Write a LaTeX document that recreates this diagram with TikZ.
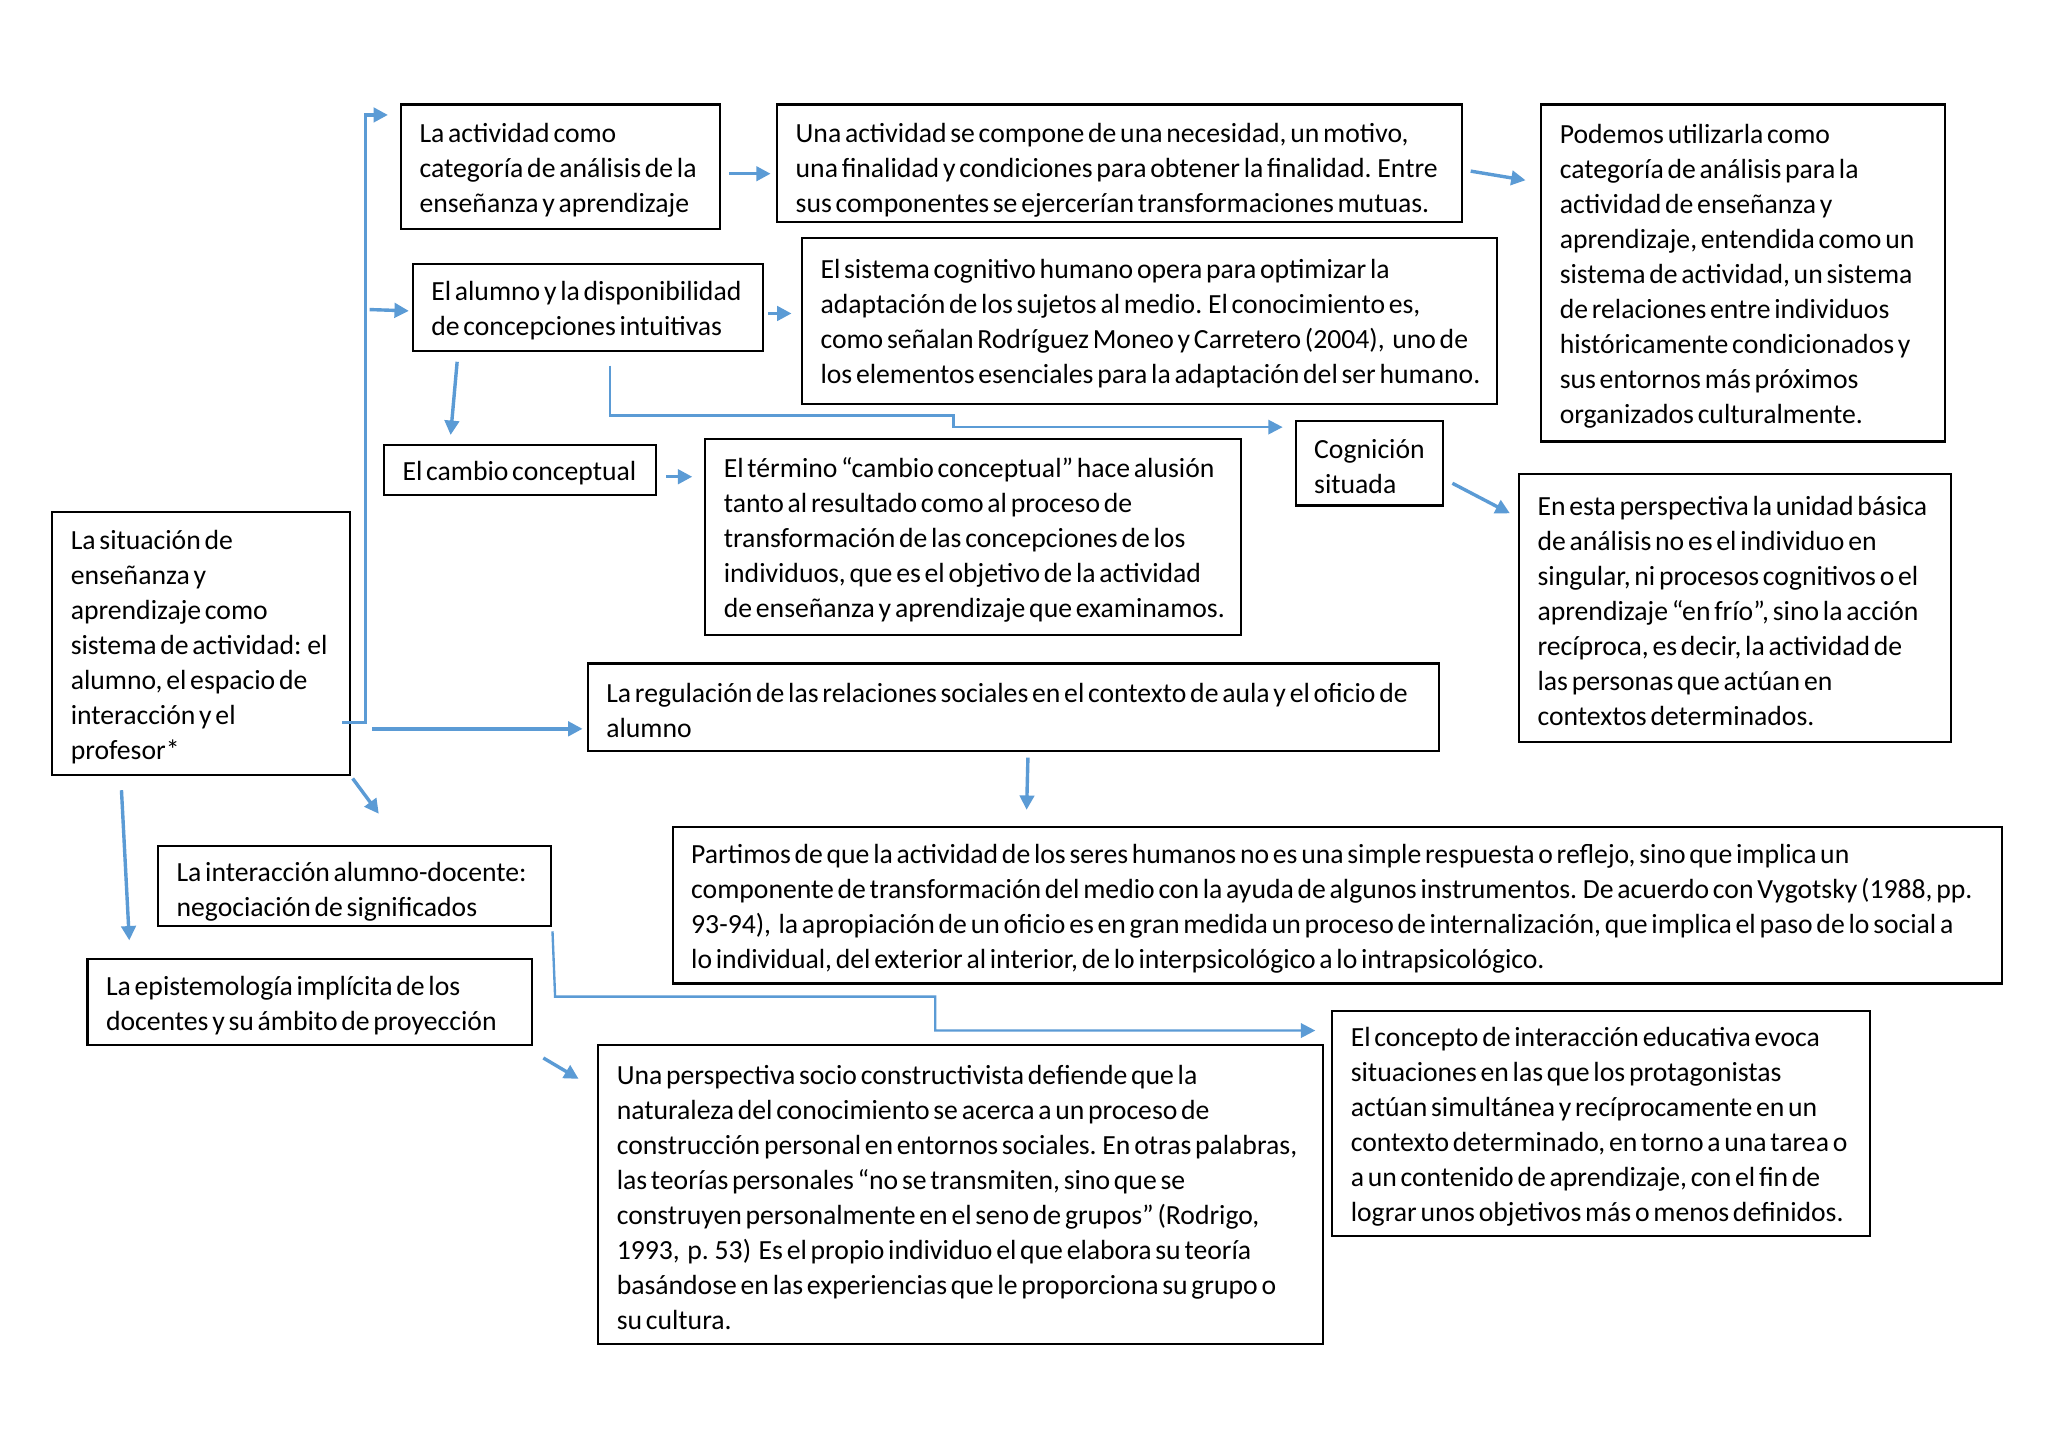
\documentclass[tikz,border=0pt]{standalone}
\usepackage{fontspec}
\setmainfont{Carlito}[WordSpace={0.6,0.3,0.3}]
\usetikzlibrary{arrows.meta,calc}
\definecolor{arr}{HTML}{5B9BD5}
\newcommand\diabox[7][0]{%
  \node[box,minimum width=#5*0.5pt,minimum height=#6*0.5pt] (#2) at (#3,#4) {};
  \node[txt] (#2t) at ([xshift=7.3pt,yshift=-1.3pt-#1*0.5pt]#2.west) {#7};}
\begin{document}
\begin{tikzpicture}[x=0.5pt,y=-0.5pt,
  box/.style={draw=black,line width=0.8pt,inner sep=0pt},
  txt/.style={align=left,inner sep=0pt,anchor=west,font=\fontsize{10.6}{13.4}\selectfont},
  con/.style={draw=arr,line width=1.3pt,-{Triangle[length=5.5pt,width=5.5pt]}},
  thincon/.style={con,line width=0.9pt}]
\useasboundingbox[fill=white] (0,0) rectangle (1568,1109);

\diabox{A}{429}{127.5}{244}{95}{La actividad como\\categoría de análisis de la\\enseñanza y aprendizaje}
\diabox[3]{B}{857}{125}{524}{90}{Una actividad se compone de una necesidad, un motivo,\\una finalidad y condiciones para obtener la finalidad. Entre\\sus componentes se ejercerían transformaciones mutuas.}
\diabox{C}{1334.5}{209}{309}{258}{Podemos utilizarla como\\categoría de análisis para la\\actividad de enseñanza y\\aprendizaje, entendida como un\\sistema de actividad, un sistema\\de relaciones entre individuos\\históricamente condicionados y\\sus entornos más próximos\\organizados culturalmente.}
\diabox{D}{450}{235.5}{268}{67}{El alumno y la disponibilidad\\de concepciones intuitivas}
\diabox{E}{880}{245.5}{532}{127}{El sistema cognitivo humano opera para optimizar la\\adaptación de los sujetos al medio. El conocimiento es,\\como señalan Rodríguez Moneo y Carretero (2004),\ \ uno de\\los elementos esenciales para la adaptación del ser humano.}
\diabox{F}{398}{360}{208}{38}{El cambio conceptual}
\diabox{G}{745}{411}{410}{150}{El término “cambio conceptual” hace alusión\\tanto al resultado como al proceso de\\transformación de las concepciones de los\\individuos, que es el objetivo de la actividad\\de enseñanza y aprendizaje que examinamos.}
\diabox{H}{1048.5}{354.5}{113}{65}{Cognición\\situada}
\diabox{I}{1328.5}{465.5}{331}{205}{En esta perspectiva la unidad básica\\de análisis no es el individuo en\\singular, ni procesos cognitivos o el\\aprendizaje “en frío”, sino la acción\\recíproca, es decir, la actividad de\\las personas que actúan en\\contextos determinados.}
\diabox{J}{154}{492.5}{228}{201}{La situación de\\enseñanza y\\aprendizaje como\\sistema de actividad: el\\alumno, el espacio de\\interacción y el\\profesor*}
\diabox{K}{776}{541.5}{652}{67}{La regulación de las relaciones sociales en el contexto de aula y el oficio de\\alumno}
\diabox{L}{1024}{693}{1018}{120}{Partimos de que la actividad de los seres humanos no es una simple respuesta o reflejo, sino que implica un\\componente de transformación del medio con la ayuda de algunos instrumentos. De acuerdo con Vygotsky (1988, pp.\\93-94),\ \ la apropiación de un oficio es en gran medida un proceso de internalización, que implica el paso de lo social a\\lo individual, del exterior al interior, de lo interpsicológico a lo intrapsicológico.}
\diabox[2]{M}{271.5}{678.5}{301}{61}{La interacción alumno-docente:\\negociación de significados}
\diabox{N}{237}{767}{340}{66}{La epistemología implícita de los\\docentes y su ámbito de proyección}
\diabox{O}{735.5}{914.5}{555}{229}{Una perspectiva socio constructivista defiende que la\\naturaleza del conocimiento se acerca a un proceso de\\construcción personal en entornos sociales. En otras palabras,\\las teorías personales “no se transmiten, sino que se\\construyen personalmente en el seno de grupos” (Rodrigo,\\1993,\ \ p. 53)\ \ Es el propio individuo el que elabora su teoría\\basándose en las experiencias que le proporciona su grupo o\\su cultura.}
\diabox{P}{1226}{860}{412}{172}{El concepto de interacción educativa evoca\\situaciones en las que los protagonistas\\actúan simultánea y recíprocamente en un\\contexto determinado, en torno a una tarea o\\a un contenido de aprendizaje, con el fin de\\lograr unos objetivos más o menos definidos.}

% connector end points
\coordinate (jA) at (262,553);   \coordinate (aIn) at (297,88);
\coordinate (dL) at (283,237);   \coordinate (dIn) at (313,238);
\coordinate (jK) at (285,558);   \coordinate (kIn) at (446,558);
\coordinate (jM) at (270,596);   \coordinate (mIn) at (290,623);
\coordinate (jN) at (93,605);    \coordinate (nIn) at (99,720);
\coordinate (aB) at (558,133);   \coordinate (bIn) at (590,133);
\coordinate (bC) at (1126,131);  \coordinate (cIn) at (1168,138);
\coordinate (dE) at (588,240);   \coordinate (eIn) at (606,240);
\coordinate (dF) at (350,277);   \coordinate (fIn) at (345,333);
\coordinate (dH) at (467,280);   \coordinate (hIn) at (982,327);
\coordinate (fG) at (510,365);   \coordinate (gIn) at (530,365);
\coordinate (hI) at (1112,370);  \coordinate (iIn) at (1156,393);
\coordinate (kL) at (787,580);   \coordinate (lIn) at (786,620);
\coordinate (mP) at (423,713);   \coordinate (pIn) at (1007,789);
\coordinate (nO) at (416,810);   \coordinate (oIn) at (443,826);

\draw[con] (jA) -- ++(18,0) |- (aIn);
\draw[con] (dL) -- (dIn);
\draw[con] (jK) -- (kIn);
\draw[con] (jM) -- (mIn);
\draw[con] (jN) -- (nIn);
\draw[con] (aB) -- (bIn);
\draw[con] (bC) -- (cIn);
\draw[con] (dE) -- (eIn);
\draw[con] (dF) -- (fIn);
\draw[thincon] (dH) -- ++(0,38) -- ++(263,0) -- ++(0,9) -- (hIn);
\draw[con] (fG) -- (gIn);
\draw[con] (hI) -- (iIn);
\draw[con] (kL) -- (lIn);
\draw[thincon] (mP) -- ++(2,50) -- ++(291,0) -- ++(0,26) -- (pIn);
\draw[con] (nO) -- (oIn);
\end{tikzpicture}
\end{document}
